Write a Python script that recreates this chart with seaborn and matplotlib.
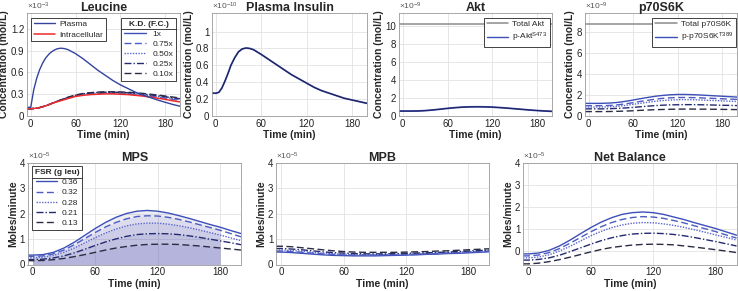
import matplotlib.pyplot as plt
from matplotlib.lines import Line2D
from matplotlib.ticker import FuncFormatter
import seaborn as sns

# --- Time grids (min) ---
T_FAST = [-5, 0, 4, 8, 12, 16, 20, 25, 30, 35, 40, 45, 50, 60, 70, 80, 90, 100,
          110, 120, 130, 140, 150, 160, 170, 180, 190, 200]
T = [-5, 0, 10, 20, 30, 40, 50, 60, 70, 80, 90, 100, 110, 120, 130, 140, 150,
     160, 170, 180, 190, 200]

# --- Leucine (x1e-3 mol/L) ---
leu_plasma = [0.12, 0.12, 0.36, 0.52, 0.64, 0.73, 0.80, 0.86, 0.90, 0.925, 0.935, 0.93,
              0.915, 0.86, 0.79, 0.71, 0.63, 0.56, 0.49, 0.43, 0.38, 0.33, 0.29, 0.255,
              0.22, 0.19, 0.16, 0.135]
leu_ic_100 = [0.10, 0.10, 0.11, 0.14, 0.18, 0.21, 0.24, 0.27, 0.285, 0.295, 0.30, 0.305,
              0.305, 0.30, 0.295, 0.285, 0.275, 0.26, 0.245, 0.23, 0.21, 0.195]
leu_ic_075 = [0.10, 0.10, 0.11, 0.14, 0.18, 0.22, 0.25, 0.28, 0.295, 0.305, 0.31, 0.315,
              0.315, 0.312, 0.306, 0.297, 0.287, 0.274, 0.26, 0.246, 0.23, 0.215]
leu_ic_050 = [0.10, 0.10, 0.11, 0.14, 0.18, 0.22, 0.25, 0.28, 0.30, 0.31, 0.317, 0.32,
              0.32, 0.318, 0.312, 0.304, 0.294, 0.282, 0.268, 0.255, 0.24, 0.225]
leu_ic_025 = [0.10, 0.10, 0.11, 0.14, 0.18, 0.22, 0.255, 0.285, 0.305, 0.318, 0.325, 0.328,
              0.328, 0.326, 0.321, 0.313, 0.303, 0.292, 0.28, 0.266, 0.252, 0.238]
leu_ic_010 = [0.10, 0.10, 0.11, 0.14, 0.18, 0.22, 0.26, 0.29, 0.31, 0.322, 0.33, 0.333,
              0.334, 0.332, 0.328, 0.321, 0.312, 0.301, 0.289, 0.276, 0.262, 0.248]

# --- Plasma insulin (x1e-10 mol/L) ---
insulin = [0.27, 0.27, 0.28, 0.33, 0.41, 0.50, 0.60, 0.69, 0.76, 0.795, 0.805, 0.80,
           0.785, 0.73, 0.67, 0.61, 0.55, 0.49, 0.44, 0.39, 0.34, 0.30, 0.27, 0.24,
           0.21, 0.19, 0.17, 0.15]

# --- Akt (x1e-9 mol/L) ---
akt_total = [10.25] * len(T)
akt_p = [0.55, 0.55, 0.55, 0.56, 0.60, 0.67, 0.76, 0.85, 0.93, 0.99, 1.02, 1.03, 1.02,
         0.99, 0.94, 0.88, 0.81, 0.74, 0.67, 0.61, 0.56, 0.52]

# --- p70S6K (x1e-9 mol/L) ---
p70_total = [8.8] * len(T)
p70_100 = [1.20, 1.20, 1.20, 1.21, 1.24, 1.30, 1.40, 1.52, 1.65, 1.77, 1.88, 1.96, 2.02,
           2.05, 2.05, 2.03, 2.00, 1.96, 1.92, 1.88, 1.84, 1.80]
p70_075 = [0.98, 0.98, 0.98, 0.99, 1.01, 1.07, 1.16, 1.27, 1.39, 1.50, 1.60, 1.68, 1.73,
           1.76, 1.76, 1.75, 1.73, 1.70, 1.67, 1.64, 1.61, 1.58]
p70_050 = [0.85, 0.85, 0.85, 0.86, 0.88, 0.93, 1.01, 1.11, 1.21, 1.31, 1.40, 1.47, 1.52,
           1.55, 1.56, 1.55, 1.53, 1.50, 1.47, 1.44, 1.41, 1.38]
p70_025 = [0.68, 0.68, 0.68, 0.68, 0.70, 0.73, 0.77, 0.82, 0.88, 0.94, 0.99, 1.03, 1.06,
           1.07, 1.08, 1.08, 1.07, 1.06, 1.04, 1.02, 1.01, 0.99]
p70_010 = [0.42, 0.42, 0.42, 0.42, 0.43, 0.45, 0.47, 0.50, 0.54, 0.57, 0.60, 0.62, 0.64,
           0.65, 0.66, 0.66, 0.65, 0.65, 0.64, 0.63, 0.62, 0.61]

# --- MPS / MPB / Net balance (x1e-5 moles/minute) ---
FSR_LABELS = ['0.36', '0.32', '0.28', '0.21', '0.13']
mps_036 = [0.37, 0.37, 0.39, 0.48, 0.65, 0.88, 1.15, 1.42, 1.66, 1.86, 2.01, 2.10, 2.13,
           2.10, 2.03, 1.93, 1.82, 1.70, 1.58, 1.47, 1.34, 1.22]
mps_032 = [0.32, 0.32, 0.34, 0.42, 0.57, 0.78, 1.02, 1.26, 1.48, 1.66, 1.80, 1.89, 1.92,
           1.91, 1.86, 1.78, 1.68, 1.57, 1.46, 1.35, 1.22, 1.09]
mps_028 = [0.27, 0.27, 0.29, 0.36, 0.48, 0.65, 0.85, 1.06, 1.24, 1.40, 1.52, 1.60, 1.63,
           1.63, 1.59, 1.53, 1.45, 1.36, 1.26, 1.16, 1.05, 0.94]
mps_021 = [0.20, 0.20, 0.21, 0.26, 0.34, 0.46, 0.60, 0.75, 0.89, 1.01, 1.11, 1.18, 1.21,
           1.22, 1.21, 1.18, 1.13, 1.07, 1.00, 0.93, 0.86, 0.78]
mps_013 = [0.15, 0.15, 0.16, 0.19, 0.24, 0.31, 0.39, 0.48, 0.57, 0.65, 0.71, 0.76, 0.79,
           0.80, 0.80, 0.79, 0.76, 0.73, 0.69, 0.65, 0.61, 0.57]

mpb_036 = [0.49, 0.49, 0.47, 0.44, 0.41, 0.38, 0.36, 0.35, 0.34, 0.34, 0.34, 0.35, 0.36,
           0.37, 0.38, 0.40, 0.41, 0.43, 0.44, 0.46, 0.48, 0.50]
mpb_032 = [0.53, 0.53, 0.51, 0.48, 0.45, 0.42, 0.40, 0.38, 0.37, 0.37, 0.37, 0.38, 0.38,
           0.39, 0.40, 0.42, 0.43, 0.45, 0.46, 0.48, 0.50, 0.52]
mpb_028 = [0.57, 0.57, 0.55, 0.52, 0.48, 0.45, 0.42, 0.40, 0.39, 0.39, 0.39, 0.39, 0.40,
           0.41, 0.42, 0.43, 0.45, 0.46, 0.48, 0.50, 0.52, 0.54]
mpb_021 = [0.63, 0.63, 0.61, 0.58, 0.54, 0.50, 0.47, 0.45, 0.43, 0.42, 0.42, 0.42, 0.43,
           0.44, 0.45, 0.46, 0.48, 0.49, 0.51, 0.53, 0.55, 0.57]
mpb_013 = [0.72, 0.72, 0.70, 0.66, 0.62, 0.58, 0.54, 0.51, 0.49, 0.48, 0.48, 0.48, 0.48,
           0.49, 0.50, 0.51, 0.53, 0.54, 0.56, 0.58, 0.60, 0.62]

nb_036 = [-0.12, -0.12, -0.08, 0.04, 0.24, 0.50, 0.79, 1.07, 1.32, 1.52, 1.67, 1.75, 1.78,
          1.75, 1.67, 1.55, 1.43, 1.29, 1.16, 1.03, 0.88, 0.73]
nb_032 = [-0.21, -0.21, -0.17, -0.06, 0.12, 0.36, 0.62, 0.88, 1.11, 1.30, 1.44, 1.53, 1.57,
          1.55, 1.49, 1.39, 1.28, 1.15, 1.02, 0.89, 0.74, 0.60]
nb_028 = [-0.30, -0.30, -0.26, -0.16, 0.01, 0.22, 0.46, 0.70, 0.90, 1.07, 1.19, 1.27, 1.30,
          1.29, 1.24, 1.17, 1.08, 0.97, 0.86, 0.74, 0.63, 0.51]
nb_021 = [-0.40, -0.40, -0.37, -0.30, -0.18, -0.02, 0.15, 0.32, 0.48, 0.61, 0.71, 0.78, 0.81,
          0.82, 0.80, 0.76, 0.70, 0.62, 0.53, 0.44, 0.34, 0.24]
nb_013 = [-0.57, -0.57, -0.54, -0.47, -0.38, -0.27, -0.15, -0.03, 0.08, 0.17, 0.23, 0.28,
          0.31, 0.32, 0.31, 0.29, 0.24, 0.19, 0.13, 0.07, 0.01, -0.06]

# --- styles ---
COLORS = ['#3d4fb8', '#4c5cc2', '#5a66cc', '#232a70', '#2a2c44']
STYLES = ['-', (0, (5, 2.5)), (0, (1, 1)), (0, (5, 1.5, 1, 1.5)), (0, (5, 2.5))]
KD_LABELS = ['1x', '0.75x', '0.50x', '0.25x', '0.10x']
BLUE = '#34449e'
RED = '#ee2a2a'
GRAY = '#8c8c8c'

sns.set_style("white")
plt.rcParams['font.family'] = ['Liberation Sans', 'DejaVu Sans']
plt.rcParams['mathtext.fontset'] = 'custom'
plt.rcParams['mathtext.rm'] = 'Liberation Sans'
plt.rcParams['mathtext.it'] = 'Liberation Sans:italic'
plt.rcParams['mathtext.bf'] = 'Liberation Sans:bold'

W, H = 738, 291
fig = plt.figure(figsize=(W / 100, H / 100), dpi=100)


def box(l, t, r, b):
    return [l / W, 1 - b / H, (r - l) / W, (b - t) / H]


def style_ax(ax, title, ylim, yticks, ylabel, exp):
    ax.set_xlim(-5, 200)
    ax.set_ylim(*ylim)
    ax.set_xticks([0, 60, 120, 180])
    ax.set_yticks(yticks)
    ax.yaxis.set_major_formatter(FuncFormatter(lambda v, p: f'{v:g}'))
    ax.grid(True, color='#e2e2e2', lw=0.6)
    ax.set_axisbelow(True)
    for s in ax.spines.values():
        s.set_color('#9a9a9a')
        s.set_linewidth(0.6)
    ax.tick_params(labelsize=7, colors='#9a9a9a', labelcolor='#222222', direction='in',
                   length=2, width=0.6, pad=2)
    ax.set_title(title, fontsize=9, fontweight='bold', pad=1.5)
    ax.set_xlabel('Time (min)', fontsize=7.5, fontweight='bold', labelpad=1)
    ax.set_ylabel(ylabel, fontsize=7.5, fontweight='bold', labelpad=1)
    ax.text(0.0, 1.01, '×10$^{' + exp + '}$', transform=ax.transAxes, fontsize=6,
            color='#555555', ha='left', va='bottom')


def legend(ax, handles, labels, loc, anchor, title=None, textpad=0.5):
    leg = ax.legend(handles, labels, loc=loc, bbox_to_anchor=anchor, fontsize=6,
                    title=title, title_fontproperties={'weight': 'bold', 'size': 6},
                    frameon=True, fancybox=False, framealpha=1, edgecolor='#222222',
                    handlelength=2.6, handletextpad=textpad, labelspacing=0.28,
                    borderpad=0.35, borderaxespad=0)
    leg.get_frame().set_linewidth(0.6)
    return leg


def rule_under_title(leg):
    fig.canvas.draw()
    r = fig.canvas.get_renderer()
    lb = leg.get_frame().get_window_extent(r)
    tb = leg.get_title().get_window_extent(r)
    y = tb.y0 - 1.5
    inv = fig.transFigure.inverted()
    (x0, yy), (x1, _) = inv.transform([(lb.x0, y), (lb.x1, y)])
    fig.add_artist(Line2D([x0, x1], [yy, yy], color='#222222', lw=0.6))


def kd_handles():
    return [Line2D([], [], color=c, ls=s, lw=1.0) for c, s in zip(COLORS, STYLES)]


conc = 'Concentration (mol/L)'

# Leucine
ax = fig.add_axes(box(27, 13, 180, 116))
ic = [leu_ic_075, leu_ic_050, leu_ic_025, leu_ic_010]
for vals, c, s in zip(ic, COLORS[1:], STYLES[1:]):
    sns.lineplot(x=T, y=vals, ax=ax, color=c, linestyle=s, lw=1.0)
sns.lineplot(x=T, y=leu_ic_100, ax=ax, color=RED, lw=1.1)
sns.lineplot(x=T_FAST, y=leu_plasma, ax=ax, color=BLUE, lw=1.0)
style_ax(ax, 'Leucine', (0, 1.42), [0, 0.3, 0.6, 0.9, 1.2], conc, '-3')
leg_kd = legend(ax, kd_handles(), KD_LABELS, 'upper right', (0.975, 0.955),
                title='K.D. (F.C.)', textpad=0.8)
ax.add_artist(leg_kd)
legend(ax, [Line2D([], [], color=BLUE, lw=1.0), Line2D([], [], color=RED, lw=1.1)],
       ['Plasma', 'Intracellular'], 'upper left', (0.025, 0.955))

# Plasma insulin
ax = fig.add_axes(box(212, 13, 367, 116))
sns.lineplot(x=T_FAST, y=insulin, ax=ax, color='#4a5cc0', lw=1.3)
sns.lineplot(x=T_FAST, y=insulin, ax=ax, color='#1e2050', lw=0.8)
style_ax(ax, 'Plasma Insulin', (0, 1.22), [0, 0.2, 0.4, 0.6, 0.8, 1], conc, '-10')

# Akt
ax = fig.add_axes(box(399, 13, 552, 116))
sns.lineplot(x=T, y=akt_total, ax=ax, color=GRAY, lw=1.1)
sns.lineplot(x=T, y=akt_p, ax=ax, color='#3d4fb8', lw=1.3)
sns.lineplot(x=T, y=akt_p, ax=ax, color='#1e2050', lw=0.7)
style_ax(ax, 'Akt', (0, 11.5), [0, 2, 4, 6, 8, 10], conc, '-9')
legend(ax, [Line2D([], [], color=GRAY, lw=1.1), Line2D([], [], color='#3d4fb8', lw=1.0)],
       ['Total Akt', 'p-Akt$^{\\mathregular{S473}}$'], 'upper right', (0.99, 0.955))

# p70S6K
ax = fig.add_axes(box(585, 13, 737, 116))
sns.lineplot(x=T, y=p70_total, ax=ax, color=GRAY, lw=1.1)
for vals, c, s in zip([p70_100, p70_075, p70_050, p70_025, p70_010], COLORS, STYLES):
    sns.lineplot(x=T, y=vals, ax=ax, color=c, linestyle=s, lw=1.0)
style_ax(ax, 'p70S6K', (0, 9.8), [0, 2, 4, 6, 8], conc, '-9')
legend(ax, [Line2D([], [], color=GRAY, lw=1.1), Line2D([], [], color='#3d4fb8', lw=1.0)],
       ['Total p70S6K', 'p-p70S6K$^{\\mathregular{T389}}$'], 'upper right', (0.995, 0.955))

# MPS
ax = fig.add_axes(box(27.5, 163, 241, 264.5))
mps = [mps_036, mps_032, mps_028, mps_021, mps_013]
for vals in mps:
    ax.fill_between(T[1:20], 0, vals[1:20], color='#5050b0', alpha=0.1, lw=0)
for vals, c, s in zip(mps, COLORS, STYLES):
    sns.lineplot(x=T, y=vals, ax=ax, color=c, linestyle=s, lw=1.0)
style_ax(ax, 'MPS', (0, 4), [0, 1, 2, 3, 4], 'Moles/minute', '-5')
leg_fsr = legend(ax, kd_handles(), FSR_LABELS, 'upper left', (0.02, 0.968),
                 title='FSR (g leu)')

# MPB
ax = fig.add_axes(box(276, 163, 489, 264.5))
for vals, c, s in zip([mpb_036, mpb_032, mpb_028, mpb_021, mpb_013], COLORS, STYLES):
    sns.lineplot(x=T, y=vals, ax=ax, color=c, linestyle=s, lw=1.0)
style_ax(ax, 'MPB', (0, 4), [0, 1, 2, 3, 4], 'Moles/minute', '-5')

# Net balance
ax = fig.add_axes(box(523, 163, 736.5, 264.5))
for vals, c, s in zip([nb_036, nb_032, nb_028, nb_021, nb_013], COLORS, STYLES):
    sns.lineplot(x=T, y=vals, ax=ax, color=c, linestyle=s, lw=1.0)
style_ax(ax, 'Net Balance', (-0.6, 4), [0, 1, 2, 3, 4], 'Moles/minute', '-5')

rule_under_title(leg_kd)
rule_under_title(leg_fsr)

fig.savefig('out.png', dpi=100, facecolor='white')
